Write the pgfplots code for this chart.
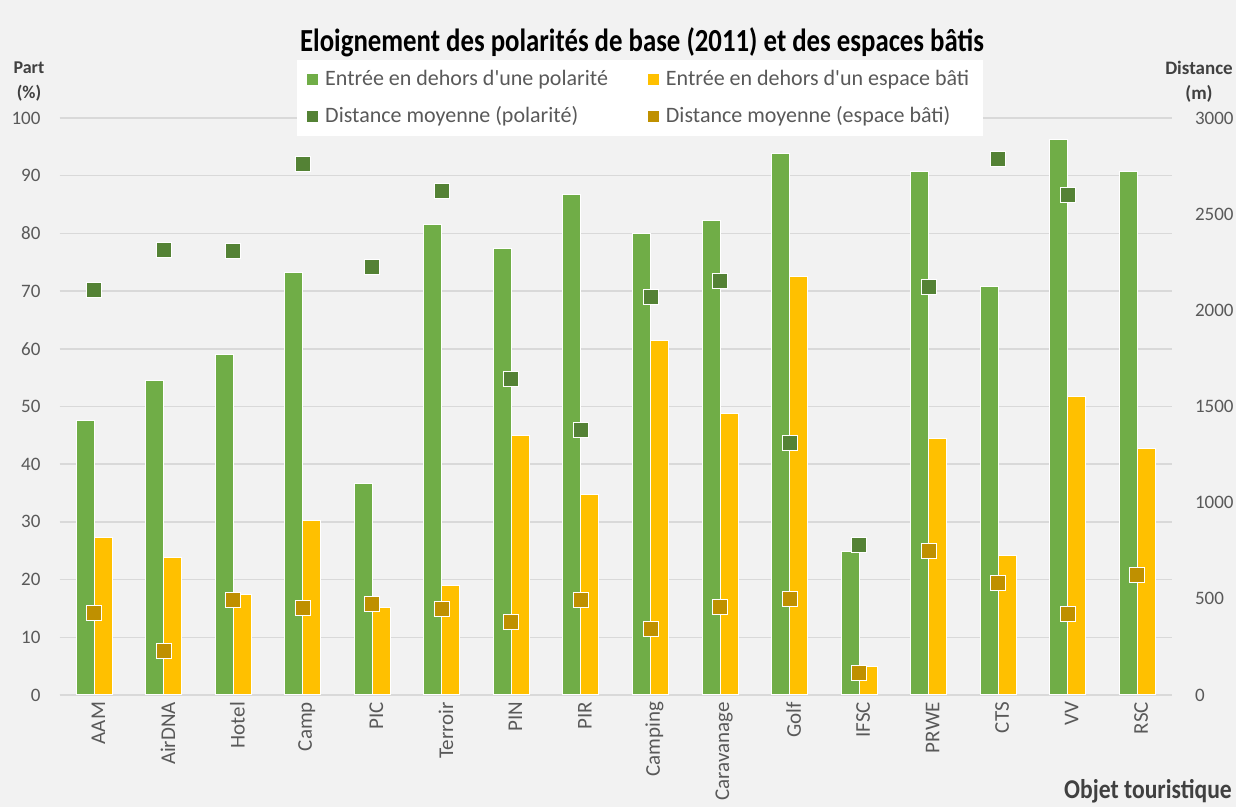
\documentclass[border=0pt]{standalone}
\usepackage{fontspec}
\setmainfont{Carlito}
\newfontfamily\legfont{Carlito}
\usepackage{pgfplots}
\pgfplotsset{compat=1.18}
\definecolor{cgreen}{HTML}{70AD47}
\definecolor{cyellow}{HTML}{FFC000}
\definecolor{cdgreen}{HTML}{548235}
\definecolor{cdyellow}{HTML}{BF9000}
\definecolor{bgc}{HTML}{F2F2F2}
\definecolor{gridc}{HTML}{D9D9D9}
\definecolor{txtc}{HTML}{595959}
\definecolor{labc}{HTML}{404040}
\begin{document}
\begin{tikzpicture}
\useasboundingbox (0pt,0pt) rectangle (618pt,403.5pt);
\fill[bgc] (0pt,0pt) rectangle (618pt,403.5pt);
\begin{axis}[
  at={(29.75pt,56pt)}, anchor=south west, scale only axis,
  width=556.25pt, height=288.5pt,
  xmin=-0.5, xmax=15.5, ymin=0, ymax=100,
  xtick={0,...,15},
  xticklabels={AAM,AirDNA,Hotel,Camp,PIC,Terroir,PIN,PIR,Camping,Caravanage,Golf,IFSC,PRWE,CTS,VV,RSC},
  ytick={0,10,...,100},
  axis x line*=bottom, axis y line*=left,
  y axis line style={draw=none},
  x axis line style={draw=gridc, line width=0.8pt},
  major tick length=0pt,
  ymajorgrids, major grid style={gridc, line width=0.75pt},
  /pgf/number format/assume math mode=true,
  tick label style={font=\fontsize{9.5}{11}\selectfont, text=txtc},
  xticklabel style={rotate=90, anchor=east, yshift=-2pt, font=\fontsize{10.5}{12}\selectfont},
  yticklabel style={xshift=-6pt},
  legend columns=2,
  legend cell align=left,
  legend style={at={(0.522,1.1005)}, anchor=north, draw=none, fill=white,
    font=\legfont\fontsize{11}{13}\selectfont, text=txtc,
    inner xsep=5pt, inner ysep=3pt,
    /tikz/every odd column/.append style={column sep=2pt},
    /tikz/every even column/.append style={column sep=18pt},
    row sep=5pt},
  clip=false,
]
\addplot[ybar, bar width=9pt, bar shift=-4.5pt, fill=cgreen, draw=white, line width=0.5pt, forget plot]
  coordinates {(0,47.5) (1,54.5) (2,59.0) (3,73.3) (4,36.6) (5,81.5) (6,77.3) (7,86.8) (8,79.9) (9,82.2) (10,93.9) (11,24.8) (12,90.8) (13,70.8) (14,96.3) (15,90.8)};
\addplot[ybar, bar width=9pt, bar shift=4.5pt, fill=cyellow, draw=white, line width=0.5pt, forget plot]
  coordinates {(0,27.3) (1,23.9) (2,17.4) (3,30.2) (4,15.1) (5,19.0) (6,45.0) (7,34.7) (8,61.4) (9,48.8) (10,72.6) (11,5.0) (12,44.5) (13,24.2) (14,51.8) (15,42.7)};
\addlegendimage{only marks, mark=square*, mark size=2.5pt, mark options={fill=cgreen, draw=cgreen}}
\addlegendentry{Entrée en dehors d'une polarité}
\addlegendimage{only marks, mark=square*, mark size=2.5pt, mark options={fill=cyellow, draw=cyellow}}
\addlegendentry{Entrée en dehors d'un espace bâti}
\addlegendimage{only marks, mark=square*, mark size=2.5pt, mark options={fill=cdgreen, draw=cdgreen}}
\addlegendentry{Distance moyenne (polarité)}
\addlegendimage{only marks, mark=square*, mark size=2.5pt, mark options={fill=cdyellow, draw=cdyellow}}
\addlegendentry{Distance moyenne (espace bâti)}
\end{axis}
\begin{axis}[
  at={(29.75pt,56pt)}, anchor=south west, scale only axis,
  width=556.25pt, height=288.5pt,
  xmin=-0.5, xmax=15.5, ymin=0, ymax=3000,
  axis x line=none, axis y line*=right,
  y axis line style={draw=none},
  major tick length=0pt,
  ytick={0,500,...,3000},
  /pgf/number format/assume math mode=true,
  /pgf/number format/1000 sep={},
  tick label style={font=\fontsize{9.5}{11}\selectfont, text=txtc},
  yticklabel style={xshift=8pt},
  clip=false,
]
\addplot[only marks, mark=square*, mark size=3.75pt, mark options={fill=cdgreen, draw=white, line width=0.5pt}]
  coordinates {(0,2105) (1,2314) (2,2309) (3,2761) (4,2225) (5,2620) (6,1643) (7,1378) (8,2069) (9,2152) (10,1310) (11,780) (12,2121) (13,2787) (14,2600)};
\addplot[only marks, mark=square*, mark size=3.75pt, mark options={fill=cdyellow, draw=white, line width=0.5pt}]
  coordinates {(0,426) (1,229) (2,494) (3,452) (4,473) (5,447) (6,380) (7,494) (8,343) (9,458) (10,499) (11,114) (12,749) (13,582) (14,421) (15,624)};
\end{axis}
\node[font=\fontsize{13.4}{15}\selectfont\bfseries, text=black, inner sep=0pt] at (321pt,382.5pt) {\scalebox{1}[1.2]{Eloignement des polarités de base (2011) et des espaces bâtis}};
\node[font=\fontsize{9}{11}\selectfont\bfseries, text=labc, align=center, inner sep=0pt] at (14.5pt,362.5pt) {Part\\[1.5pt](\%)};
\node[font=\fontsize{9.5}{11}\selectfont\bfseries, text=labc, align=center, inner sep=0pt] at (599.5pt,362.5pt) {Distance\\[1.5pt](m)};
\node[font=\fontsize{11.8}{13}\selectfont\bfseries, text=labc, inner sep=0pt] at (574pt,8pt) {\scalebox{1}[1.15]{Objet touristique}};
\end{tikzpicture}
\end{document}
